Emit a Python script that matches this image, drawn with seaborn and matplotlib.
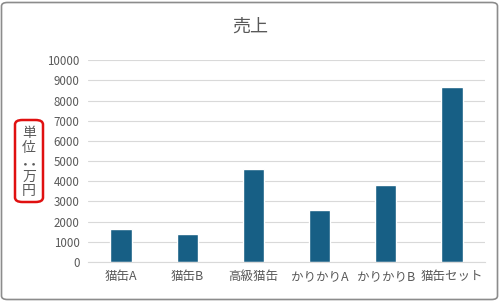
import matplotlib
matplotlib.use("Agg")
import matplotlib.pyplot as plt
from matplotlib.patches import FancyBboxPatch
import pandas as pd
import seaborn as sns

categories = ["猫缶A", "猫缶B", "高級猫缶", "かりかりA", "かりかりB", "猫缶セット"]
sales = [1650, 1380, 4600, 2600, 3800, 8680]
yticks = [0, 1000, 2000, 3000, 4000, 5000, 6000, 7000, 8000, 9000, 10000]
title = "売上"
unit_label = ["単", "位", ":", "万", "円"]

sns.set_theme(style="white")
plt.rcParams["font.family"] = ["Noto Sans CJK JP", "DejaVu Sans"]

text_color = "#595959"
bar_color = "#175f85"

df = pd.DataFrame({"category": categories, "sales": sales})

fig = plt.figure(figsize=(5, 3.01), dpi=100)
ax = fig.add_axes([0.176, 0.1296, 0.794, 0.6704])

sns.barplot(data=df, x="category", y="sales", color=bar_color, width=0.32,
            saturation=1, ax=ax)

ax.set_ylim(0, 10000)
ax.set_yticks(yticks)
ax.set_yticklabels([str(v) for v in yticks], fontsize=8.3, color=text_color)
ax.set_xticklabels(categories, fontsize=9, color=text_color)
ax.set_xlabel("")
ax.set_ylabel("")
ax.tick_params(axis="both", length=0, pad=6)
ax.grid(axis="y", color="#d9d9d9", linewidth=0.8)
ax.set_axisbelow(True)
for side in ["left", "right", "top"]:
    ax.spines[side].set_visible(False)
ax.spines["bottom"].set_color("#d9d9d9")
ax.spines["bottom"].set_linewidth(0.8)

fig.text(0.5, 0.91, title, ha="center", va="center", fontsize=13, color=text_color)

# vertical unit label with the colon turned sideways
ys = [133, 148, 162, 177, 191]
for ch, y in zip(unit_label, ys):
    rot = 90 if ch == ":" else 0
    size = 14 if ch == ":" else 10
    fig.text(29 / 500, 1 - y / 301, ch, ha="center", va="center", fontsize=size,
             color=text_color, rotation=rot)

box = FancyBboxPatch((15 / 500, 1 - 202 / 301), 28 / 500, 82 / 301,
                     boxstyle="round,pad=0,rounding_size=0.015",
                     transform=fig.transFigure, fill=False,
                     edgecolor="#e01010", linewidth=1.8)
fig.add_artist(box)

frame = FancyBboxPatch((1.5 / 500, 1.5 / 301), 496 / 500, 297 / 301,
                       boxstyle="round,pad=0,rounding_size=0.012",
                       transform=fig.transFigure, fill=False,
                       edgecolor="#8c8c8c", linewidth=1.2)
fig.add_artist(frame)

fig.savefig("out.png", dpi=100)
